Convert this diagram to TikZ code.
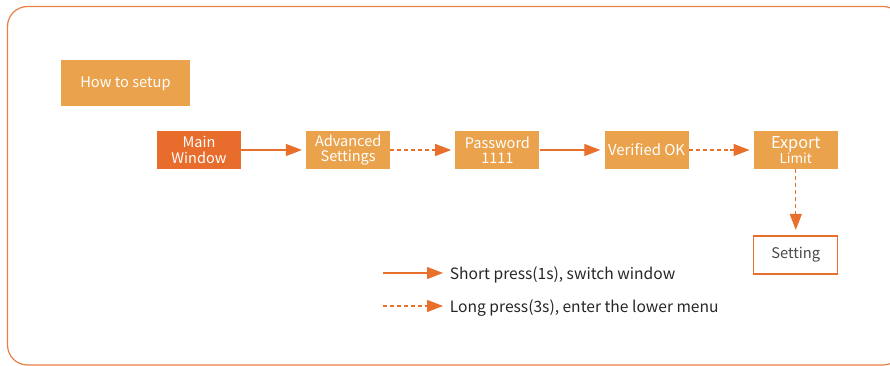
\documentclass[tikz,border=0pt]{standalone}
\usepackage{fontspec}
\setmainfont{Noto Sans CJK SC}
\usepackage{tikz}
\usetikzlibrary{arrows.meta,positioning}
\definecolor{deeporange}{HTML}{E86C2B}
\definecolor{softorange}{HTML}{EBA24C}
\definecolor{lineorange}{HTML}{E8702C}
\definecolor{frameorange}{HTML}{EA7F45}
\definecolor{textgrey}{HTML}{4A4A4A}
\tikzset{
    stepbox/.style={rectangle, fill=softorange, text=white, minimum width=63pt,
                    minimum height=28.5pt, inner sep=0pt, align=center,
                    font=\fontsize{10.9}{11.6}\selectfont},
    mainbox/.style={stepbox, fill=deeporange},
    endbox/.style={rectangle, draw=lineorange, line width=1pt, fill=white,
                   text=textgrey, minimum width=63pt, minimum height=28.5pt,
                   inner sep=0pt, font=\fontsize{11}{12}\selectfont},
    titlebox/.style={rectangle, fill=softorange, text=white, minimum width=96.75pt,
                     minimum height=34.5pt, inner sep=0pt,
                     font=\fontsize{11}{12}\selectfont},
    legendtext/.style={anchor=west, inner sep=0pt, inner xsep=5pt, text=black!85,
                       font=\fontsize{11.7}{12}\selectfont},
    shortpress/.style={draw=lineorange, line width=0.9pt,
                       -{Triangle[length=12pt, width=9pt, fill=lineorange]}},
    longpress/.style={shortpress, dash pattern=on 3pt off 2.2pt},
}

\begin{document}
\begin{tikzpicture}[x=0.75pt, y=-0.75pt, node distance=48.5pt]
        \useasboundingbox (0,0) rectangle (890,366);
        \clip (0,0) rectangle (890,366);
        % Frame
        \draw[frameorange, line width=0.9pt, rounded corners=15pt] (7.5,6.5) rectangle (903,365);

        % Title
        \node [titlebox] (title) at (125.5,83.5) {How to setup};

        % Menu chain
        \node [mainbox] (mainwin) at (199,150) {Main\\Window};
        \node [stepbox, right=of mainwin] (adv)    {Advanced\\Settings};
        \node [stepbox, right=of adv]     (passwd) {Password\\1111};
        \node [stepbox, right=of passwd]  (verify) {\fontsize{11.2}{12}\selectfont Verified OK};
        \node [stepbox, right=of verify]  (export) {{\fontsize{12.2}{12}\selectfont Export}\\{\fontsize{10.2}{10}\selectfont Limit}};
        \node [endbox, below=49.5pt of export] (setting) {Setting};

        % Arrows
        \draw[shortpress] (mainwin) -- ([xshift=-3pt]adv.west);
        \draw[longpress]  (adv)     -- ([xshift=-3pt]passwd.west);
        \draw[shortpress] (passwd)  -- ([xshift=-3pt]verify.west);
        \draw[longpress]  (verify)  -- ([xshift=-3pt]export.west);
        \draw[longpress]  (export)  -- ([yshift=4pt]setting.north);

        % Legend
        \coordinate (shortstart) at (383,273);
        \coordinate (longstart)  at (383,306);
        \node [legendtext, yshift=-1.2pt] (shorttext) at (443,273) {Short press(1s), switch window};
        \node [legendtext, yshift=-1.2pt] (longtext)  at (443,306) {Long press(3s), enter the lower menu};
        \draw[shortpress] (shortstart) -- (shortstart -| shorttext.west);
        \draw[longpress]  (longstart)  -- (longstart -| longtext.west);
    \end{tikzpicture}
\end{document}
